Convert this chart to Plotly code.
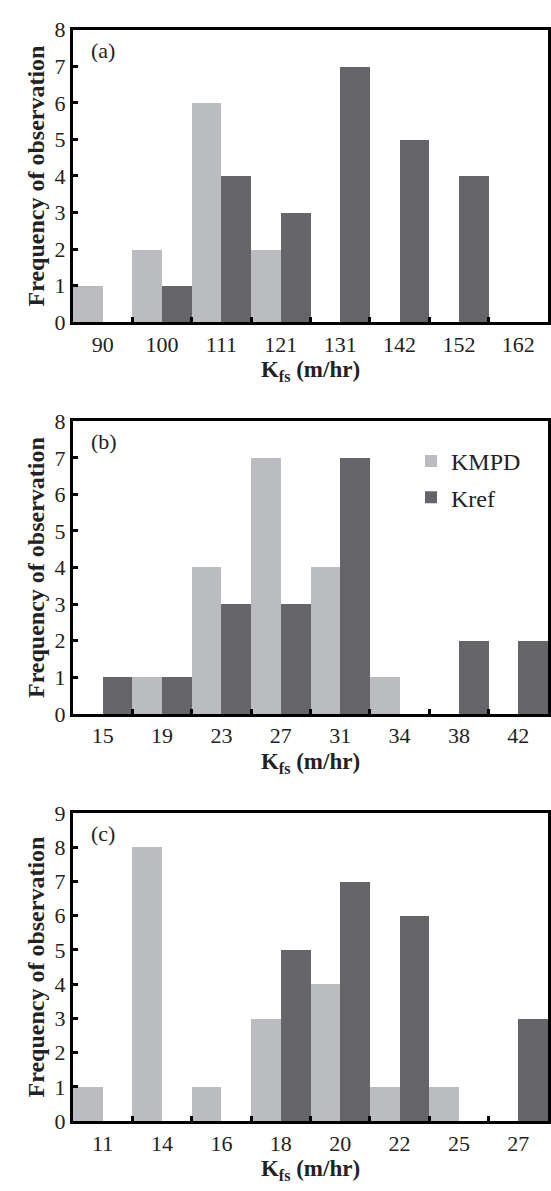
import plotly.graph_objects as go
from plotly.subplots import make_subplots

# Histogram bins (K_fs class labels, m/hr) and observation counts per panel
bins_a = ["90", "100", "111", "121", "131", "142", "152", "162"]
kmpd_a = [1, 2, 6, 2, 0, 0, 0, 0]
kref_a = [0, 1, 4, 3, 7, 5, 4, 0]

bins_b = ["15", "19", "23", "27", "31", "34", "38", "42"]
kmpd_b = [0, 1, 4, 7, 4, 1, 0, 0]
kref_b = [1, 1, 3, 3, 7, 0, 2, 2]

bins_c = ["11", "14", "16", "18", "20", "22", "25", "27"]
kmpd_c = [1, 8, 1, 3, 4, 1, 1, 0]
kref_c = [0, 0, 0, 5, 7, 6, 0, 3]

panel_labels = ["(a)", "(b)", "(c)"]
y_max = [8, 8, 9]

LIGHT = "#bbbcbf"
DARK = "#656569"
FONT = "Liberation Serif"
TXT = "#222"

W, H = 551, 1191
# plot boxes in pixel coordinates: (left, right, top, bottom)
boxes = [(73, 548, 18, 317), (73, 548, 418, 717), (73, 548, 818, 1133)]

fig = make_subplots(rows=3, cols=1)

panels = [(bins_a, kmpd_a, kref_a), (bins_b, kmpd_b, kref_b), (bins_c, kmpd_c, kref_c)]
for i, (bins, kmpd, kref) in enumerate(panels):
    row = i + 1
    fig.add_trace(go.Bar(x=bins, y=kmpd, name="KMPD", marker_color=LIGHT,
                         marker_line_width=0,
                         showlegend=(i == 1), legendgroup="kmpd"), row=row, col=1)
    fig.add_trace(go.Bar(x=bins, y=kref, name="Kref", marker_color=DARK,
                         marker_line_width=0,
                         showlegend=(i == 1), legendgroup="kref"), row=row, col=1)

    l, r, t, b = boxes[i]
    xname = "xaxis" if row == 1 else f"xaxis{row}"
    yname = "yaxis" if row == 1 else f"yaxis{row}"
    fig.layout[xname].update(
        domain=[l / W, r / W], type="category", tickson="boundaries",
        ticks="inside", ticklen=5, tickwidth=3, tickcolor="black",
        showline=True, linewidth=3, linecolor="black", mirror=True,
        showgrid=False, zeroline=False,
        tickfont=dict(family=FONT, size=22, color=TXT),
        title=dict(text="<b>K<sub>fs</sub> (m/hr)</b>", standoff=6,
                   font=dict(family=FONT, size=23, color=TXT)),
    )
    fig.layout[yname].update(
        domain=[1 - b / H, 1 - t / H], range=[0, y_max[i]], dtick=1,
        ticks="inside", ticklen=5, tickwidth=3, tickcolor="black",
        showline=True, linewidth=3, linecolor="black", mirror=True,
        showgrid=False, zeroline=False,
        tickfont=dict(family=FONT, size=22, color=TXT),
        title=dict(text="<b>Frequency of observation</b>", standoff=4,
                   font=dict(family=FONT, size=24, color=TXT)),
    )
    fig.add_annotation(text=panel_labels[i], xref="paper", yref="paper",
                       x=(l + 16) / W, y=1 - (t + 21) / H,
                       xanchor="left", yanchor="middle", showarrow=False,
                       font=dict(family=FONT, size=22, color=TXT))

fig.update_layout(
    width=W, height=H,
    margin=dict(l=0, r=0, t=0, b=0),
    paper_bgcolor="white", plot_bgcolor="white",
    barmode="group", bargap=0, bargroupgap=0,
    legend=dict(x=411 / W, y=1 - 436 / H, xanchor="left", yanchor="top",
                bgcolor="rgba(0,0,0,0)", itemwidth=30, tracegroupgap=2,
                font=dict(family=FONT, size=24, color=TXT)),
)

fig.write_html("out.html")
